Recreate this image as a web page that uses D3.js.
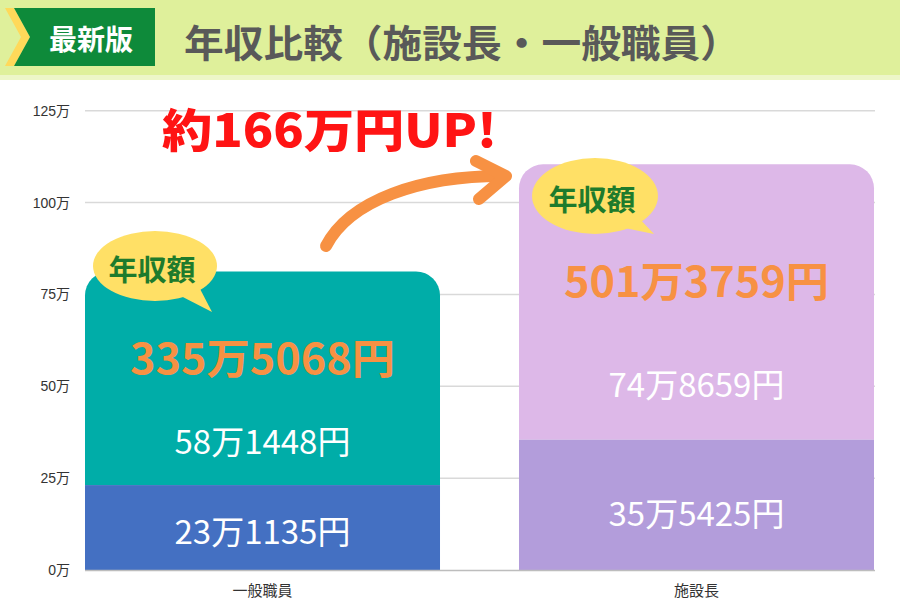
<!DOCTYPE html>
<html><head><meta charset="utf-8">
<script src="https://cdn.jsdelivr.net/npm/d3@7"></script>
<style>
html,body{margin:0;padding:0;background:#fff;}
svg{display:block;font-family:"Noto Sans CJK JP","Noto Sans",sans-serif;}
</style></head>
<body>
<svg id="chart" width="900" height="600"></svg>
<script>
// ---- data (万円) ----
const categories = ["一般職員", "施設長"];
const baseValues = [23.1135, 35.5425];
const topValues = [58.1448, 74.8659];
const baseLabels = ["23万1135円", "35万5425円"];
const topLabels = ["58万1448円", "74万8659円"];
const totalLabels = ["335万5068円", "501万3759円"];
const yTicks = [0, 25, 50, 75, 100, 125];
const titleText = "年収比較（施設長・一般職員）";
const badgeText = "最新版";
const bubbleText = "年収額";
const upText = "約166万円UP!";

const svg = d3.select("#chart");
const W = 900, H = 600;

// header
svg.append("rect").attr("x",0).attr("y",0).attr("width",W).attr("height",80).attr("fill","#EDF6C8");
svg.append("rect").attr("x",0).attr("y",0).attr("width",W).attr("height",75).attr("fill","#DFF09B");
svg.append("polygon").attr("points","5,8 14,8 30,37 14,66 5,66 21,37").attr("fill","#FFD95A");
svg.append("polygon").attr("points","14,8 155,8 155,66 14,66 30,37").attr("fill","#0E8A3A");
svg.append("text").attr("x",91).attr("y",38).attr("text-anchor","middle").attr("dominant-baseline","central")
  .attr("fill","#fff").attr("font-size",28).attr("font-weight",700).text(badgeText);
svg.append("text").attr("x",184).attr("y",40).attr("dominant-baseline","central")
  .attr("fill","#595959").attr("font-size",38).attr("font-weight",700)
  .attr("textLength",556).attr("lengthAdjust","spacingAndGlyphs").text(titleText);

// scales
const y = d3.scaleLinear().domain([0,125]).range([570,110.7]);
const x = d3.scaleBand().domain(categories).range([85,874]).paddingInner(0.182).paddingOuter(0);

// grid
svg.append("g").selectAll("line").data(yTicks.slice(1)).join("line")
  .attr("x1",85).attr("x2",875).attr("y1",d=>y(d)).attr("y2",d=>y(d))
  .attr("stroke","#D9D9D9").attr("stroke-width",1.5);

// y axis labels
const yAxis = d3.axisLeft(y).tickValues(yTicks).tickSize(0).tickPadding(0).tickFormat(d=>d+"万");
const ya = svg.append("g").attr("transform","translate(70,0)").call(yAxis);
ya.select(".domain").remove();
ya.selectAll("text").attr("font-size",14).attr("fill","#333").attr("font-family","'Liberation Sans','Noto Sans CJK JP',sans-serif");

// stacked data
const rows = categories.map((c,i)=>({cat:c, base:baseValues[i], top:topValues[i]}));
const stack = d3.stack().keys(["base","top"])(rows);
const colors = {base:["#4470C2","#B39DDB"], top:["#00ADA8","#DDB8E8"]};

function roundTopRect(x0,y0,w,h,r){
  const p = d3.path();
  p.moveTo(x0, y0+h);
  p.lineTo(x0, y0+r);
  p.arcTo(x0, y0, x0+r, y0, r);
  p.lineTo(x0+w-r, y0);
  p.arcTo(x0+w, y0, x0+w, y0+r, r);
  p.lineTo(x0+w, y0+h);
  p.closePath();
  return p.toString();
}

// bottom segments
svg.append("g").selectAll("rect").data(stack[0]).join("rect")
  .attr("x",(d,i)=>x(categories[i])).attr("width",x.bandwidth())
  .attr("y",d=>y(d[1])).attr("height",d=>y(d[0])-y(d[1]))
  .attr("fill",(d,i)=>colors.base[i]);
// top segments (rounded top)
svg.append("g").selectAll("path").data(stack[1]).join("path")
  .attr("d",(d,i)=>roundTopRect(x(categories[i]), y(d[1]), x.bandwidth(), y(d[0])-y(d[1]), 24))
  .attr("fill",(d,i)=>colors.top[i]);

// baseline
svg.append("line").attr("x1",85).attr("x2",875).attr("y1",y(0)+0.5).attr("y2",y(0)+0.5)
  .attr("stroke","#BDBDBD").attr("stroke-width",1.5);

// x labels
svg.append("g").selectAll("text").data(categories).join("text")
  .attr("x",d=>x(d)+x.bandwidth()/2).attr("y",589).attr("text-anchor","middle").attr("dominant-baseline","central")
  .attr("font-size",15).attr("fill","#333").text(d=>d);

// segment labels
const cx = i => x(categories[i]) + x.bandwidth()/2;
svg.append("g").selectAll("text").data(baseLabels).join("text")
  .attr("x",(d,i)=>cx(i)).attr("y",(d,i)=>[530,512][i]).attr("text-anchor","middle").attr("dominant-baseline","central")
  .attr("fill","#fff").attr("font-size",33).text(d=>d);
svg.append("g").selectAll("text").data(topLabels).join("text")
  .attr("x",(d,i)=>cx(i)).attr("y",(d,i)=>[440,383][i]).attr("text-anchor","middle").attr("dominant-baseline","central")
  .attr("fill","#fff").attr("font-size",33).text(d=>d);
svg.append("g").selectAll("text").data(totalLabels).join("text")
  .attr("x",(d,i)=>cx(i)).attr("y",(d,i)=>[355,278][i]).attr("text-anchor","middle").attr("dominant-baseline","central")
  .attr("fill","#F79143").attr("font-size",42).attr("font-weight",700)
  .attr("textLength",265).attr("lengthAdjust","spacingAndGlyphs").text(d=>d);

// speech bubbles
const bubbles = [{cx:155, cy:266, rx:62, ry:35, tx:212, ty:312}, {cx:595, cy:196, rx:63, ry:38, tx:654, ty:234}];
const bg = svg.append("g").selectAll("g").data(bubbles).join("g");
bg.append("path").attr("d",b=>`M${b.cx+20},${b.cy+b.ry-8} L${b.tx},${b.ty} L${b.cx+42},${b.cy+b.ry-18} Z`).attr("fill","#FFE066");
bg.append("ellipse").attr("cx",b=>b.cx).attr("cy",b=>b.cy).attr("rx",b=>b.rx).attr("ry",b=>b.ry).attr("fill","#FFE066");
bg.append("text").attr("x",b=>b.cx-3).attr("y",b=>b.cy+2).attr("text-anchor","middle").attr("dominant-baseline","central")
  .attr("fill","#1E7B2C").attr("font-size",29).attr("font-weight",700).text(bubbleText);

// arrow
const arrow = svg.append("g").attr("fill","none").attr("stroke","#F79143").attr("stroke-linecap","round").attr("stroke-linejoin","round");
arrow.append("path").attr("d","M326,246 C350,200 420,176 502,176").attr("stroke-width",12);
arrow.append("path").attr("d","M476,161 L506,176 L479,199").attr("stroke-width",12);

// UP text
svg.append("text").attr("x",162).attr("y",127).attr("dominant-baseline","central")
  .attr("fill","#FF1414").attr("font-size",46).attr("font-weight",900)
  .attr("textLength",335).attr("lengthAdjust","spacingAndGlyphs").text(upText);
</script>
</body></html>
